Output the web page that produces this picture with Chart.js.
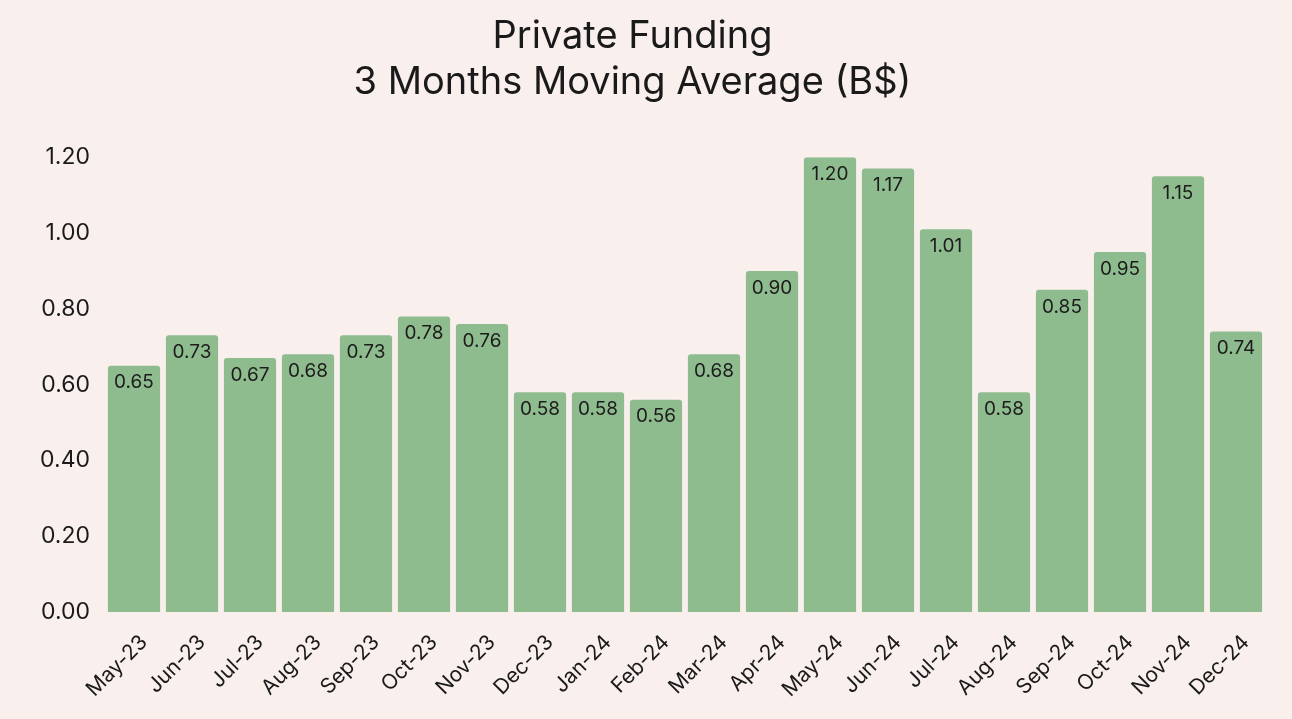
<!DOCTYPE html>
<html>
<head>
<meta charset="utf-8">
<script src="https://cdn.jsdelivr.net/npm/chart.js@4.4.1/dist/chart.umd.min.js"></script>
<style>
  html, body { margin: 0; padding: 0; background: #f9f0ee; }
  #wrap { width: 1292px; height: 719px; }
</style>
</head>
<body>
<div id="wrap"><canvas id="chartFunding"></canvas></div>
<script>
var months = ["May-23", "Jun-23", "Jul-23", "Aug-23", "Sep-23", "Oct-23", "Nov-23", "Dec-23", "Jan-24", "Feb-24",
    "Mar-24", "Apr-24", "May-24", "Jun-24", "Jul-24", "Aug-24", "Sep-24", "Oct-24", "Nov-24", "Dec-24"];
var funding = [0.65, 0.73, 0.67, 0.68, 0.73, 0.78, 0.76, 0.58, 0.58, 0.56,
    0.68, 0.90, 1.20, 1.17, 1.01, 0.58, 0.85, 0.95, 1.15, 0.74];
var titleLines = ["Private Funding", "3 Months Moving Average (B$)"];

var fontName = "Inter, 'Noto Sans', sans-serif";

// value written inside the top of each bar
var barLabels = {
    id: 'barLabels',
    afterDatasetsDraw: function(chart) {
        var ctx = chart.ctx;
        var meta = chart.getDatasetMeta(0);
        ctx.save();
        ctx.font = "19px " + fontName;
        ctx.fillStyle = "#1c1c1c";
        ctx.textAlign = "center";
        ctx.textBaseline = "middle";
        meta.data.forEach(function(bar, i) {
            ctx.fillText(funding[i].toFixed(2), bar.x, bar.y + 17);
        });
        ctx.restore();
    }
};

var ctx = document.getElementById('chartFunding').getContext('2d');
var chart = new Chart(ctx, {
    type: 'bar',
    data: {
        labels: months,
        datasets: [{
            label: "Private Funding",
            backgroundColor: "rgb(143,188,143)",
            borderRadius: 3,
            borderSkipped: 'bottom',
            categoryPercentage: 1.0,
            barPercentage: 0.9,
            data: funding
        }]
    },
    options: {
        responsive: true,
        maintainAspectRatio: false,
        animation: false,
        layout: { padding: { left: 0, right: 27, top: 0, bottom: 0 } },
        plugins: {
            legend: { display: false },
            tooltip: { enabled: false },
            title: {
                display: true,
                text: titleLines,
                color: "#1a1a1a",
                font: { family: fontName, size: 38, weight: 'normal', lineHeight: 1.2 },
                padding: { top: 14, bottom: 52 }
            }
        },
        scales: {
            x: {
                grid: { display: false, drawTicks: false },
                border: { display: false },
                ticks: {
                    color: "#1a1a1a",
                    font: { family: fontName, size: 21 },
                    minRotation: 45,
                    maxRotation: 45,
                    padding: 18,
                    labelOffset: 10,
                    autoSkip: false
                },
                afterFit: function(scale) { scale.height = 107; }
            },
            y: {
                min: 0,
                max: 1.2,
                grid: { display: false, drawTicks: false },
                border: { display: false },
                ticks: {
                    stepSize: 0.2,
                    color: "#1a1a1a",
                    font: { family: fontName, size: 23 },
                    padding: 15,
                    callback: function(v) { return v.toFixed(2); }
                },
                afterFit: function(scale) { scale.width = 105; }
            }
        }
    },
    plugins: [barLabels]
});
</script>
</body>
</html>
